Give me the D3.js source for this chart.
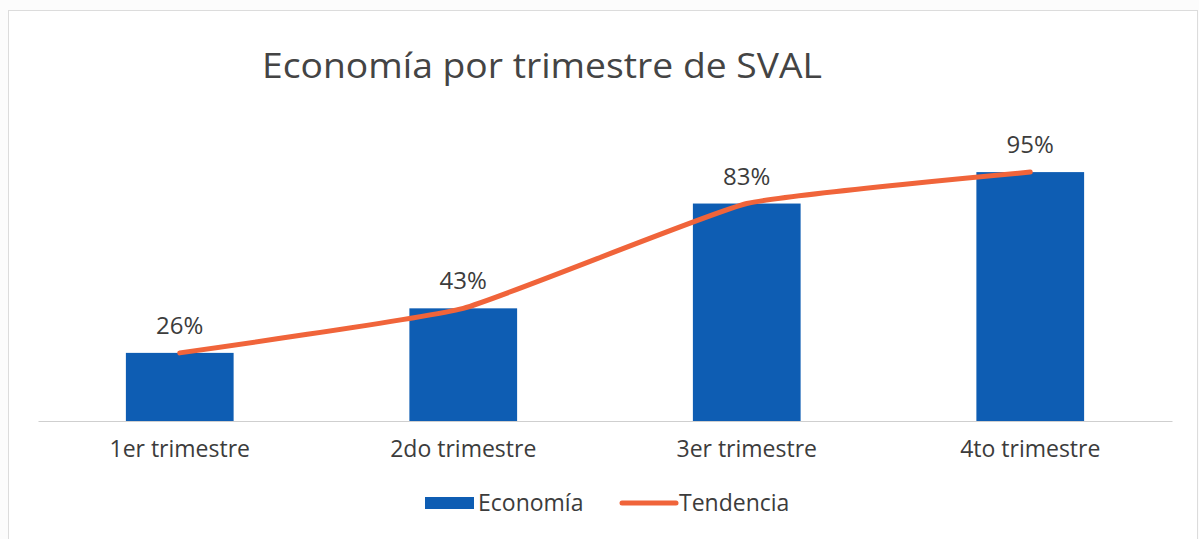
<!DOCTYPE html>
<html>
<head>
<meta charset="utf-8">
<script src="https://cdn.jsdelivr.net/npm/d3@7"></script>
<style>
  html, body { margin: 0; padding: 0; background: #fcfcfc; }
  svg { display: block; font-family: "Open Sans", "Noto Sans", sans-serif; }
</style>
</head>
<body>
<svg id="chart" width="1199" height="539"></svg>
<script>
// Chart data
const title = "Economía por trimestre de SVAL";
const categories = ["1er trimestre", "2do trimestre", "3er trimestre", "4to trimestre"];
const economia = [26, 43, 83, 95];
const tendencia = [26, 43, 83, 95];
const seriesNames = ["Economía", "Tendencia"];

const blue = "#0e5db3";
const orange = "#f0643a";
const textColour = "#3c3c3c";

const svg = d3.select("#chart");
const width = 1199, height = 539;
const margin = {left: 38, right: 27, baseline: 421, top: 159};

// Frame
svg.append("rect")
    .attr("x", 8.5).attr("y", 10.5)
    .attr("width", width - 10).attr("height", height - 8)
    .attr("fill", "#ffffff")
    .attr("stroke", "#dcdcdc");

// Scales
const x = d3.scaleBand()
    .domain(categories)
    .range([margin.left, width - margin.right])
    .paddingInner(0.62)
    .paddingOuter(0.31);
const y = d3.scaleLinear()
    .domain([0, 100])
    .range([margin.baseline, margin.top]);

// Title
svg.append("text")
    .attr("x", 262).attr("y", 78)
    .attr("font-size", 35)
    .attr("fill", "#444")
    .attr("textLength", 560)
    .attr("lengthAdjust", "spacingAndGlyphs")
    .text(title);

// Baseline / category axis
const xAxis = svg.append("g")
    .attr("transform", `translate(0, ${margin.baseline})`)
    .call(d3.axisBottom(x).tickSize(0).tickPadding(0));
xAxis.select(".domain").attr("stroke", "#cfcfcf").attr("stroke-width", 1.2);
xAxis.selectAll("text")
    .attr("dy", 0)
    .attr("y", 36)
    .attr("font-size", 23)
    .attr("font-family", "'Open Sans', 'Noto Sans', sans-serif")
    .attr("fill", textColour);

// Bars
svg.append("g").selectAll("rect")
    .data(economia)
    .join("rect")
    .attr("x", (d, i) => x(categories[i]))
    .attr("y", d => y(d))
    .attr("width", x.bandwidth())
    .attr("height", d => y(0) - y(d))
    .attr("fill", blue);

// Trend line
const line = d3.line()
    .x((d, i) => x(categories[i]) + x.bandwidth() / 2)
    .y(d => y(d))
    .curve(d3.curveCardinal.tension(0.6));
svg.append("path")
    .datum(tendencia)
    .attr("fill", "none")
    .attr("stroke", orange)
    .attr("stroke-width", 5)
    .attr("stroke-linecap", "round")
    .attr("d", line);

// Data labels
svg.append("g").selectAll("text")
    .data(economia)
    .join("text")
    .attr("x", (d, i) => x(categories[i]) + x.bandwidth() / 2)
    .attr("y", d => y(d) - 19)
    .attr("text-anchor", "middle")
    .attr("font-size", 24)
    .attr("fill", textColour)
    .text(d => d + "%");

// Legend
const legend = svg.append("g");
legend.append("rect")
    .attr("x", 425).attr("y", 497)
    .attr("width", 49).attr("height", 12)
    .attr("fill", blue);
legend.append("text")
    .attr("x", 478).attr("y", 511)
    .attr("font-size", 23)
    .attr("fill", textColour)
    .text(seriesNames[0]);
legend.append("line")
    .attr("x1", 622).attr("x2", 676)
    .attr("y1", 503).attr("y2", 503)
    .attr("stroke", orange)
    .attr("stroke-width", 5)
    .attr("stroke-linecap", "round");
legend.append("text")
    .attr("x", 679).attr("y", 511)
    .attr("font-size", 23)
    .attr("fill", textColour)
    .text(seriesNames[1]);
</script>
</body>
</html>
